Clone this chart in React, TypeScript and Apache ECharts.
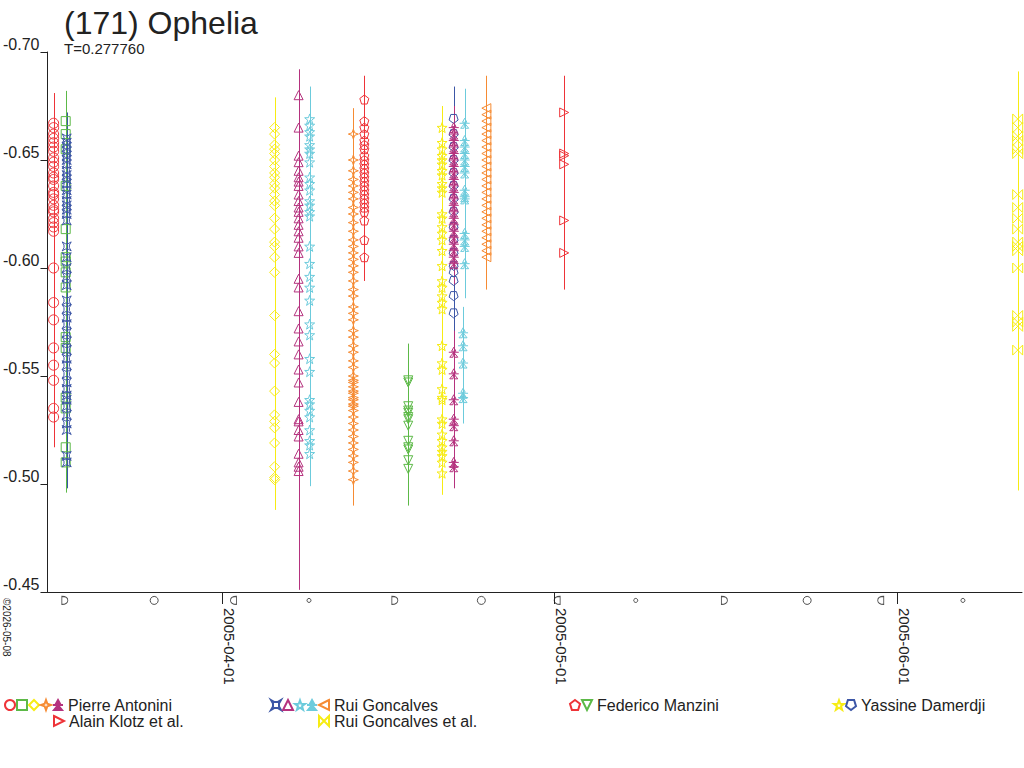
import * as echarts from "echarts";
import { useEffect, useRef } from "react";

const FONT = "'Liberation Sans', Arial, Helvetica, sans-serif";
const INK = "#222222";

const RED = "#ee3338";
const GREEN = "#5cb947";
const YELLOW = "#f7ec13";
const ORANGE = "#f68b33";
const MAGENTA = "#b5327e";
const BLUE = "#3c56a6";
const CYAN = "#6ccbdc";

// axes (x is a UTC timestamp on a value axis)
const xMin = Date.UTC(2005, 2, 16, 5, 40);
const xMax = Date.UTC(2005, 5, 12, 6, 0);
const monthTicks = [Date.UTC(2005, 3, 1), Date.UTC(2005, 4, 1), Date.UTC(2005, 5, 1)];
const yMin = -0.7;
const yMax = -0.45;
const yStep = 0.05;

// moon phases shown under the time axis
const moonPhases: [number, string][] = [
  [Date.UTC(2005, 2, 17, 19, 19), "first"],
  [Date.UTC(2005, 2, 25, 20, 58), "full"],
  [Date.UTC(2005, 3, 2, 0, 50), "last"],
  [Date.UTC(2005, 3, 8, 20, 32), "new"],
  [Date.UTC(2005, 3, 16, 14, 37), "first"],
  [Date.UTC(2005, 3, 24, 10, 6), "full"],
  [Date.UTC(2005, 4, 1, 6, 24), "last"],
  [Date.UTC(2005, 4, 8, 8, 45), "new"],
  [Date.UTC(2005, 4, 16, 8, 57), "first"],
  [Date.UTC(2005, 4, 23, 20, 18), "full"],
  [Date.UTC(2005, 4, 30, 11, 47), "last"],
  [Date.UTC(2005, 5, 6, 21, 55), "new"],
];
const moonRow = -0.4461;

// relative magnitudes, one array per observing night ([mag, err] where the error differs)
const antoniniCircles = [-0.667, -0.665, -0.662, -0.66, -0.658, -0.656, -0.654, -0.651, -0.649, -0.647, -0.644, -0.642, -0.641, -0.638, -0.635, -0.634, -0.632, -0.629, -0.627, -0.626, -0.623, -0.621, -0.619, -0.617, -0.6, -0.584, -0.576, -0.563, -0.555, -0.548, -0.535, -0.531];
const antoniniSquares = [-0.668, -0.662, -0.655, -0.638, -0.618, -0.605, -0.603, -0.598, -0.591, -0.568, -0.563, -0.54, -0.535, -0.517, -0.51];
const goncalvesCrosses = [-0.66, -0.658, -0.656, -0.654, -0.652, -0.65, -0.648, -0.645, -0.643, -0.641, -0.639, -0.636, -0.634, -0.631, -0.629, -0.627, -0.625, -0.622, -0.61, -0.605, -0.6, -0.596, -0.592, -0.585, -0.581, -0.577, -0.574, -0.57, -0.566, -0.562, -0.558, -0.555, -0.551, -0.547, -0.544, -0.541, -0.539, -0.536, -0.532, -0.528, -0.525, -0.513, -0.51];
const antoniniDiamonds = [-0.665, -0.662, -0.657, -0.655, -0.653, -0.65, -0.647, -0.644, -0.642, -0.639, -0.637, -0.634, -0.631, -0.629, -0.623, -0.618, -0.612, -0.61, -0.605, -0.598, -0.578, -0.56, -0.556, -0.543, -0.532, -0.529, -0.526, -0.519, -0.508, -0.503, -0.502];
const goncalvesTriangles: (number | number[])[] = [-0.68, -0.665, -0.652, -0.649, -0.645, -0.642, -0.64, -0.638, -0.634, -0.631, -0.628, -0.626, -0.623, -0.62, -0.617, -0.614, -0.61, -0.607, -0.595, -0.591, -0.58, -0.572, -0.566, [-0.56, 0.1], -0.553, -0.547, -0.538, -0.53, -0.529, -0.525, -0.522, -0.514, -0.51, -0.508, [-0.506, 0.055]];
const goncalvesStars = [-0.669, -0.666, -0.663, -0.661, -0.657, -0.655, -0.653, -0.649, -0.642, -0.639, -0.636, -0.631, -0.629, -0.626, -0.624, -0.61, -0.602, -0.596, -0.591, -0.585, -0.574, -0.569, -0.558, -0.552, -0.539, -0.537, -0.534, -0.531, -0.525, -0.52, -0.518, -0.514];
const antoniniSparks = [-0.662, -0.65, -0.645, -0.641, -0.638, -0.635, -0.632, -0.628, -0.625, -0.621, -0.617, -0.613, -0.61, -0.607, -0.604, -0.601, -0.598, -0.594, -0.59, -0.587, -0.582, -0.579, -0.576, -0.571, -0.568, -0.564, -0.561, -0.557, -0.554, -0.55, -0.548, -0.547, -0.545, -0.543, -0.542, -0.54, -0.539, -0.537, -0.536, -0.534, -0.531, -0.528, -0.525, -0.522, -0.519, -0.516, -0.513, -0.51, -0.506, -0.502];
const manziniPentagons = [-0.678, -0.668, -0.665, -0.662, -0.659, -0.657, -0.655, -0.652, -0.65, -0.648, -0.646, -0.644, -0.642, -0.64, -0.638, -0.636, -0.634, -0.632, -0.63, -0.628, -0.626, -0.622, -0.613, -0.605];
const manziniTriangles = [-0.548, -0.547, -0.536, -0.534, -0.533, -0.531, -0.53, -0.527, -0.52, -0.517, -0.516, -0.511, -0.507];
const damerdjiStars = [-0.665, -0.658, -0.655, -0.652, -0.65, -0.648, -0.645, -0.643, -0.639, -0.637, -0.635, -0.625, -0.623, -0.619, -0.616, -0.613, -0.608, -0.601, -0.594, -0.591, -0.587, -0.584, -0.581, -0.564, -0.556, -0.553, -0.544, -0.54, -0.539, -0.53, -0.528, -0.523, -0.52, -0.517, -0.515, -0.513, -0.51, -0.505];
const damerdjiPentagons = [-0.669, -0.662, -0.656, -0.65, -0.644, -0.638, -0.632, -0.626, -0.619, -0.613, -0.607, -0.601, -0.598, -0.594, -0.587, -0.579];
const antoniniTrefoils = [-0.665, -0.662, -0.659, -0.656, -0.653, -0.65, -0.647, -0.644, -0.641, -0.638, -0.635, -0.632, -0.629, -0.626, -0.623, -0.62, -0.617, -0.614, -0.611, -0.608, -0.605, -0.602, -0.561, -0.551, -0.539, -0.53, -0.527, -0.52, -0.51, -0.508];
const goncalvesTrefoilsLate = [-0.667, -0.659, -0.656, -0.653, -0.65, -0.647, -0.644, -0.636, -0.633, -0.632, -0.616, -0.613, -0.61, -0.602];
const goncalvesTrefoilsEarly = [-0.57, -0.564, -0.556, -0.542, -0.54];
const goncalvesLefts = [-0.674, -0.671, -0.668, -0.665, -0.662, -0.659, -0.656, -0.653, -0.65, -0.647, -0.644, -0.641, -0.638, -0.635, -0.632, -0.629, -0.626, -0.623, -0.62, -0.617, -0.614, -0.611, -0.608, -0.605];
const klotzRights = [-0.672, -0.653, -0.652, -0.648, -0.622, -0.607];
const goncalvesBowties: (number | number[])[] = [-0.669, -0.665, -0.661, -0.659, -0.655, -0.653, -0.634, -0.628, -0.623, -0.618, -0.612, -0.61, -0.608, -0.6, -0.578, -0.575, -0.573, [-0.562, 0.065]];

// symbols
const SYM = {
  spark: "path://M5,0L6.3,3.7L10,5L6.3,6.3L5,10L3.7,6.3L0,5L3.7,3.7Z",
  trefoil: "path://M5,0L7.2,4L2.8,4Z M0,5L10,5 M5,5L1,10L4.2,10Z M5,5L9,10L5.8,10Z",
  cross: "path://M0,0L3.5,2L6.5,2L10,0L8,3.5L8,6.5L10,10L6.5,8L3.5,8L0,10L2,6.5L2,3.5Z",
  star: "path://M5,0L6.18,3.38L9.76,3.45L6.9,5.62L7.94,9.05L5,7L2.06,9.05L3.1,5.62L0.24,3.45L3.82,3.38Z",
  left: "path://M10,0L0,5L10,10Z",
  right: "path://M0,0L10,5L0,10Z",
  down: "path://M0,0L10,0L5,10Z",
  pentagon: "path://M5,0L10,3.8L8.1,10L1.9,10L0,3.8Z",
  pentagonDown: "path://M1.9,0L8.1,0L10,6.2L5,10L0,6.2Z",
  bowtie: "path://M0,0L5,5L0,10Z M10,0L5,5L10,10Z",
  moonFirst: "path://M2,0L2,10C9,10 9,0 2,0Z",
  moonLast: "path://M8,0L8,10C1,10 1,0 8,0Z",
};

type Night = { date: number; err: number; mags: (number | number[])[] };
type Track = { id: string; color: string; symbol: string; size: number; nights: Night[] };

// drawing order
const tracks: Track[] = [
  { id: "pa-circle", color: RED, symbol: "circle", size: 10, nights: [{ date: Date.UTC(2005, 2, 16, 19, 0), err: 0.014, mags: antoniniCircles }] },
  { id: "pa-square", color: GREEN, symbol: "rect", size: 9, nights: [{ date: Date.UTC(2005, 2, 17, 21, 10), err: 0.014, mags: antoniniSquares }] },
  { id: "rg-cross", color: BLUE, symbol: SYM.cross, size: 9, nights: [{ date: Date.UTC(2005, 2, 17, 23, 20), err: 0.012, mags: goncalvesCrosses }] },
  { id: "pa-diamond", color: YELLOW, symbol: "diamond", size: 10, nights: [{ date: Date.UTC(2005, 3, 5, 18, 0), err: 0.014, mags: antoniniDiamonds }] },
  { id: "rg-triangle", color: MAGENTA, symbol: "triangle", size: 9, nights: [{ date: Date.UTC(2005, 3, 7, 22, 0), err: 0.012, mags: goncalvesTriangles }] },
  { id: "rg-star", color: CYAN, symbol: SYM.star, size: 10, nights: [{ date: Date.UTC(2005, 3, 8, 22, 0), err: 0.015, mags: goncalvesStars }] },
  { id: "pa-spark", color: ORANGE, symbol: SYM.spark, size: 10, nights: [{ date: Date.UTC(2005, 3, 12, 20, 40), err: 0.012, mags: antoniniSparks }] },
  { id: "fm-pentagon", color: RED, symbol: SYM.pentagon, size: 9, nights: [{ date: Date.UTC(2005, 3, 13, 20, 30), err: 0.011, mags: manziniPentagons }] },
  { id: "fm-down", color: GREEN, symbol: SYM.down, size: 9, nights: [{ date: Date.UTC(2005, 3, 17, 19, 40), err: 0.017, mags: manziniTriangles }] },
  { id: "yd-star", color: YELLOW, symbol: SYM.star, size: 10, nights: [{ date: Date.UTC(2005, 3, 20, 21, 0), err: 0.01, mags: damerdjiStars }] },
  { id: "yd-pentagon", color: BLUE, symbol: SYM.pentagonDown, size: 9, nights: [{ date: Date.UTC(2005, 3, 21, 22, 0), err: 0.015, mags: damerdjiPentagons }] },
  { id: "pa-trefoil", color: MAGENTA, symbol: SYM.trefoil, size: 10, nights: [{ date: Date.UTC(2005, 3, 21, 22, 20), err: 0.01, mags: antoniniTrefoils }] },
  {
    id: "rg-trefoil", color: CYAN, symbol: SYM.trefoil, size: 10, nights: [
      { date: Date.UTC(2005, 3, 22, 22, 0), err: 0.016, mags: goncalvesTrefoilsLate },
      { date: Date.UTC(2005, 3, 22, 18, 30), err: 0.012, mags: goncalvesTrefoilsEarly },
    ],
  },
  { id: "rg-left", color: ORANGE, symbol: SYM.left, size: 9, nights: [{ date: Date.UTC(2005, 3, 24, 21, 0), err: 0.015, mags: goncalvesLefts }] },
  { id: "ak-right", color: RED, symbol: SYM.right, size: 9, nights: [{ date: Date.UTC(2005, 4, 1, 21, 40), err: 0.017, mags: klotzRights }] },
  { id: "rge-bowtie", color: YELLOW, symbol: SYM.bowtie, size: 10, nights: [{ date: Date.UTC(2005, 5, 11, 20, 40), err: 0.022, mags: goncalvesBowties }] },
];

const legendGroups = [
  { label: "Pierre Antonini", ids: ["pa-circle", "pa-square", "pa-diamond", "pa-spark", "pa-trefoil"], left: 4, top: 697 },
  { label: "Rui Goncalves", ids: ["rg-cross", "rg-triangle", "rg-star", "rg-trefoil", "rg-left"], left: 270, top: 697 },
  { label: "Federico Manzini", ids: ["fm-pentagon", "fm-down"], left: 569, top: 697 },
  { label: "Yassine Damerdji", ids: ["yd-star", "yd-pentagon"], left: 833, top: 697 },
  { label: "Alain Klotz et al.", ids: ["ak-right"], left: 53, top: 713 },
  { label: "Rui Goncalves et al.", ids: ["rge-bowtie"], left: 318, top: 713 },
];

const pad = (n: number) => (n < 10 ? "0" + n : "" + n);
const fmtDate = (v: number) => {
  const d = new Date(v);
  return d.getUTCFullYear() + "-" + pad(d.getUTCMonth() + 1) + "-" + pad(d.getUTCDate());
};

function buildOption() {
  const series: any[] = [];
  tracks.forEach((t) => {
    const bars: number[][] = [];
    const pts: number[][] = [];
    t.nights.forEach((n) => {
      n.mags.forEach((m) => {
        const mag = Array.isArray(m) ? m[0] : m;
        const err = Array.isArray(m) ? m[1] : n.err;
        bars.push([n.date, mag - err, mag + err]);
        pts.push([n.date, mag]);
      });
    });
    series.push({
      type: "custom",
      name: t.id + "-err",
      silent: true,
      encode: { x: 0, y: [1, 2] },
      data: bars,
      renderItem: (_p: any, api: any) => {
        const a = api.coord([api.value(0), api.value(1)]);
        const b = api.coord([api.value(0), api.value(2)]);
        const x = Math.round(a[0]) + 0.5;
        return {
          type: "line",
          shape: { x1: x, y1: a[1], x2: x, y2: b[1] },
          style: { stroke: t.color, lineWidth: 1 },
        };
      },
    });
    series.push({
      type: "scatter",
      name: t.id,
      symbol: t.symbol,
      symbolSize: t.size,
      silent: true,
      data: pts,
      itemStyle: { color: "rgba(0,0,0,0)", borderColor: t.color, borderWidth: 1, opacity: 1 },
    });
  });

  series.push({
    type: "scatter",
    name: "moon",
    silent: true,
    clip: false,
    data: moonPhases.map(([t, phase]) => ({
      value: [t, moonRow],
      symbol: phase === "first" ? SYM.moonFirst : phase === "last" ? SYM.moonLast : "circle",
      symbolSize: phase === "full" ? 8 : phase === "new" ? 4 : [6, 8],
    })),
    itemStyle: { color: "rgba(0,0,0,0)", borderColor: INK, borderWidth: 1 },
  });

  return {
    animation: false,
    backgroundColor: "#ffffff",
    textStyle: { fontFamily: FONT },
    title: {
      text: "(171) Ophelia",
      subtext: "T=0.277760",
      left: 64,
      top: 7,
      padding: 0,
      itemGap: 2,
      textStyle: { fontSize: 32, fontWeight: "normal", color: INK, fontFamily: FONT },
      subtextStyle: { fontSize: 15, color: INK, fontFamily: FONT },
    },
    grid: { left: 45, right: 2, top: 52, bottom: 176, containLabel: false },
    xAxis: {
      type: "value",
      min: xMin,
      max: xMax,
      axisLine: { onZero: false, lineStyle: { color: INK, width: 1 } },
      axisTick: { show: true, customValues: monthTicks, length: 12, lineStyle: { color: INK } },
      axisLabel: {
        customValues: monthTicks,
        rotate: -90,
        margin: 16,
        verticalAlign: "bottom",
        fontSize: 15,
        color: INK,
        fontFamily: FONT,
        formatter: (v: number) => fmtDate(v),
      },
      splitLine: { show: false },
    },
    yAxis: {
      type: "value",
      inverse: true,
      min: yMin,
      max: yMax,
      interval: yStep,
      axisLine: { show: true, lineStyle: { color: INK, width: 1 } },
      axisTick: { show: true, length: 7, lineStyle: { color: INK } },
      axisLabel: {
        margin: 8,
        verticalAlign: "bottom",
        fontSize: 16,
        color: INK,
        fontFamily: FONT,
        formatter: (v: number) => v.toFixed(2),
      },
      splitLine: { show: false },
    },
    legend: legendGroups.map((g) => ({
      left: g.left,
      top: g.top,
      orient: "horizontal",
      padding: 0,
      itemGap: 0,
      itemWidth: 10,
      itemHeight: 10,
      selectedMode: false,
      data: g.ids,
      formatter: (name: string) => (name === g.ids[g.ids.length - 1] ? g.label : ""),
      textStyle: { fontSize: 16, color: INK, fontFamily: FONT },
    })),
    graphic: [
      {
        type: "text",
        x: 1,
        y: 598,
        rotation: -Math.PI / 2,
        style: {
          text: "©2026-05-08",
          fontSize: 10,
          fontFamily: FONT,
          fill: INK,
          align: "left",
          verticalAlign: "bottom",
        },
      },
    ],
    series,
  };
}

export default function App() {
  const ref = useRef<HTMLDivElement>(null);

  useEffect(() => {
    const chart = echarts.init(ref.current, undefined, { renderer: "svg" });
    chart.setOption(buildOption() as any);
    return () => {
      chart.dispose();
    };
  }, []);

  return (
    <div
      ref={ref}
      style={{ position: "fixed", left: 0, top: 0, width: 1024, height: 768, background: "#fff" }}
    ></div>
  );
}
